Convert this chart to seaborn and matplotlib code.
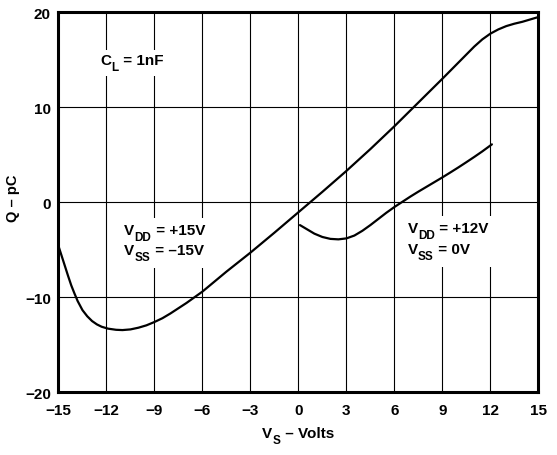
import matplotlib
matplotlib.use("Agg")
import matplotlib.pyplot as plt
from matplotlib.patches import Rectangle
from matplotlib.transforms import Bbox
import seaborn as sns
import pandas as pd

# Charge transfer Q (pC) versus source voltage V_S, C_L = 1 nF
vs_bipolar = [-15.0, -14.8, -14.6, -14.4, -14.2, -14.0, -13.8, -13.5, -13.2,
              -12.9, -12.6, -12.3, -11.9, -11.4, -11.0, -10.5, -10.0, -9.5,
              -9.0, -8.5, -8.0, -7.5, -7.0, -6.5, -6.0, -4.5, -3.0, -1.5, 0.0,
              1.5, 3.0, 4.5, 6.0, 7.5, 9.0, 9.5, 10.0, 10.5, 11.0, 11.5, 12.0,
              12.5, 13.0, 13.5, 14.0, 14.5, 15.0]
q_bipolar = [-4.6, -5.65, -6.7, -7.75, -8.75, -9.6, -10.4, -11.35, -12.0,
             -12.5, -12.85, -13.1, -13.3, -13.42, -13.45, -13.38, -13.2, -12.95,
             -12.6, -12.2, -11.7, -11.15, -10.6, -10.0, -9.4, -7.3, -5.3, -3.2,
             -1.05, 1.1, 3.3, 5.6, 8.0, 10.5, 13.0, 13.85, 14.7, 15.55, 16.4,
             17.15, 17.75, 18.2, 18.55, 18.8, 19.0, 19.25, 19.5]

vs_single = [0.1, 0.5, 1.0, 1.5, 2.0, 2.5, 3.0, 3.5, 4.0, 4.5, 5.0, 5.5, 6.0,
             6.5, 7.0, 7.5, 8.0, 8.5, 9.0, 9.5, 10.0, 10.5, 11.0, 11.5, 12.1]
q_single = [-2.4, -2.8, -3.3, -3.65, -3.85, -3.9, -3.8, -3.5, -3.0, -2.4,
            -1.75, -1.1, -0.5, 0.05, 0.6, 1.12, 1.62, 2.12, 2.62, 3.14, 3.67,
            4.22, 4.78, 5.36, 6.1]

x_ticks = [-15, -12, -9, -6, -3, 0, 3, 6, 9, 12, 15]
y_ticks = [-20, -10, 0, 10, 20]

sns.set_theme(style="white")
plt.rcParams["font.family"] = ["Liberation Sans", "DejaVu Sans"]
plt.rcParams["font.weight"] = "bold"

df = pd.concat([
    pd.DataFrame({"V": vs_bipolar, "Q": q_bipolar, "supply": "bipolar"}),
    pd.DataFrame({"V": vs_single, "Q": q_single, "supply": "single"}),
])

fig = plt.figure(figsize=(5.57, 4.56), dpi=100)
ax = fig.add_axes([0.1050, 0.1375, 0.8614, 0.8333])

sns.lineplot(data=df, x="V", y="Q", units="supply", estimator=None, sort=False,
             color="black", linewidth=1.6, ax=ax, zorder=4, legend=False)

ax.set_xlim(-15, 15)
ax.set_ylim(-20, 20)
ax.set_xticks(x_ticks)
ax.set_yticks(y_ticks)
ax.tick_params(axis="both", length=0, labelsize=11, colors="black")
ax.tick_params(axis="x", pad=7.5)
ax.tick_params(axis="y", pad=5.5)
for lab in ax.get_xticklabels() + ax.get_yticklabels():
    lab.set_fontweight("bold")

ax.set_axisbelow(True)
ax.grid(True, color="black", linewidth=0.8)
for sp in ax.spines.values():
    sp.set_visible(True)
    sp.set_color("black")
    sp.set_linewidth(2.2)
    sp.set_zorder(5)

ax.set_xlabel("")
ax.set_ylabel("Q \u2013 pC", fontsize=10.5, fontweight="bold", color="black")
ax.yaxis.set_label_coords(-0.080, 0.514)


def sub_label(x, y, base, sub, rest, transform, size=11, subsize=8.5, drop=4.3):
    """Bold text with a lowered subscript: base, subscript, then the rest."""
    common = dict(fontweight="bold", color="black", zorder=3)
    t1 = ax.text(x, y, base, transform=transform, ha="left", va="baseline",
                 fontsize=size, clip_on=False, **common)
    t2 = ax.annotate(sub, xy=(1, 0), xycoords=t1, xytext=(0.2, -drop),
                     textcoords="offset points", ha="left", va="bottom",
                     fontsize=subsize, annotation_clip=False, **common)
    t3 = ax.annotate(rest, xy=(1, 0), xycoords=(t2, t1), xytext=(0.4, 0),
                     textcoords="offset points", ha="left", va="bottom",
                     fontsize=size, annotation_clip=False, **common)
    return [t1, t2, t3]


cl_label = sub_label(-12.4, 14.6, "C", "L", " = 1nF", ax.transData)
bip_label = (sub_label(-10.9, -3.34, "V", "DD", " = +15V", ax.transData)
             + sub_label(-10.9, -5.44, "V", "SS", " = \u201315V", ax.transData))
uni_label = (sub_label(6.83, -3.16, "V", "DD", " = +12V", ax.transData)
             + sub_label(6.83, -5.34, "V", "SS", " = 0V", ax.transData))
xlab = sub_label(0.44, -0.1176, "V", "S", " \u2013 Volts", ax.transAxes)

fig.canvas.draw()
renderer = fig.canvas.get_renderer()

# centre the axis title under the axes
bb = Bbox.union([t.get_window_extent(renderer) for t in xlab])
ax_bb = ax.get_window_extent(renderer)
shift = (ax_bb.x0 + ax_bb.x1) / 2 - (bb.x0 + bb.x1) / 2
x0, y0 = xlab[0].get_position()
xlab[0].set_position((x0 + shift / ax_bb.width, y0))

# white panels behind the annotations so the grid stops at the text
for group, pad in ((cl_label, 3), (bip_label, 5), (uni_label, 5)):
    gb = Bbox.union([t.get_window_extent(renderer) for t in group])
    gb = Bbox.from_extents(gb.x0 - pad - 3, gb.y0 - pad, gb.x1 + pad, gb.y1 + pad)
    (ax0, ay0), (ax1, ay1) = ax.transAxes.inverted().transform(gb.get_points())
    ax.add_patch(Rectangle((ax0, ay0), ax1 - ax0, ay1 - ay0, transform=ax.transAxes,
                           facecolor="white", edgecolor="none", zorder=2.5))

fig.savefig("out.png", dpi=100, facecolor="white")
